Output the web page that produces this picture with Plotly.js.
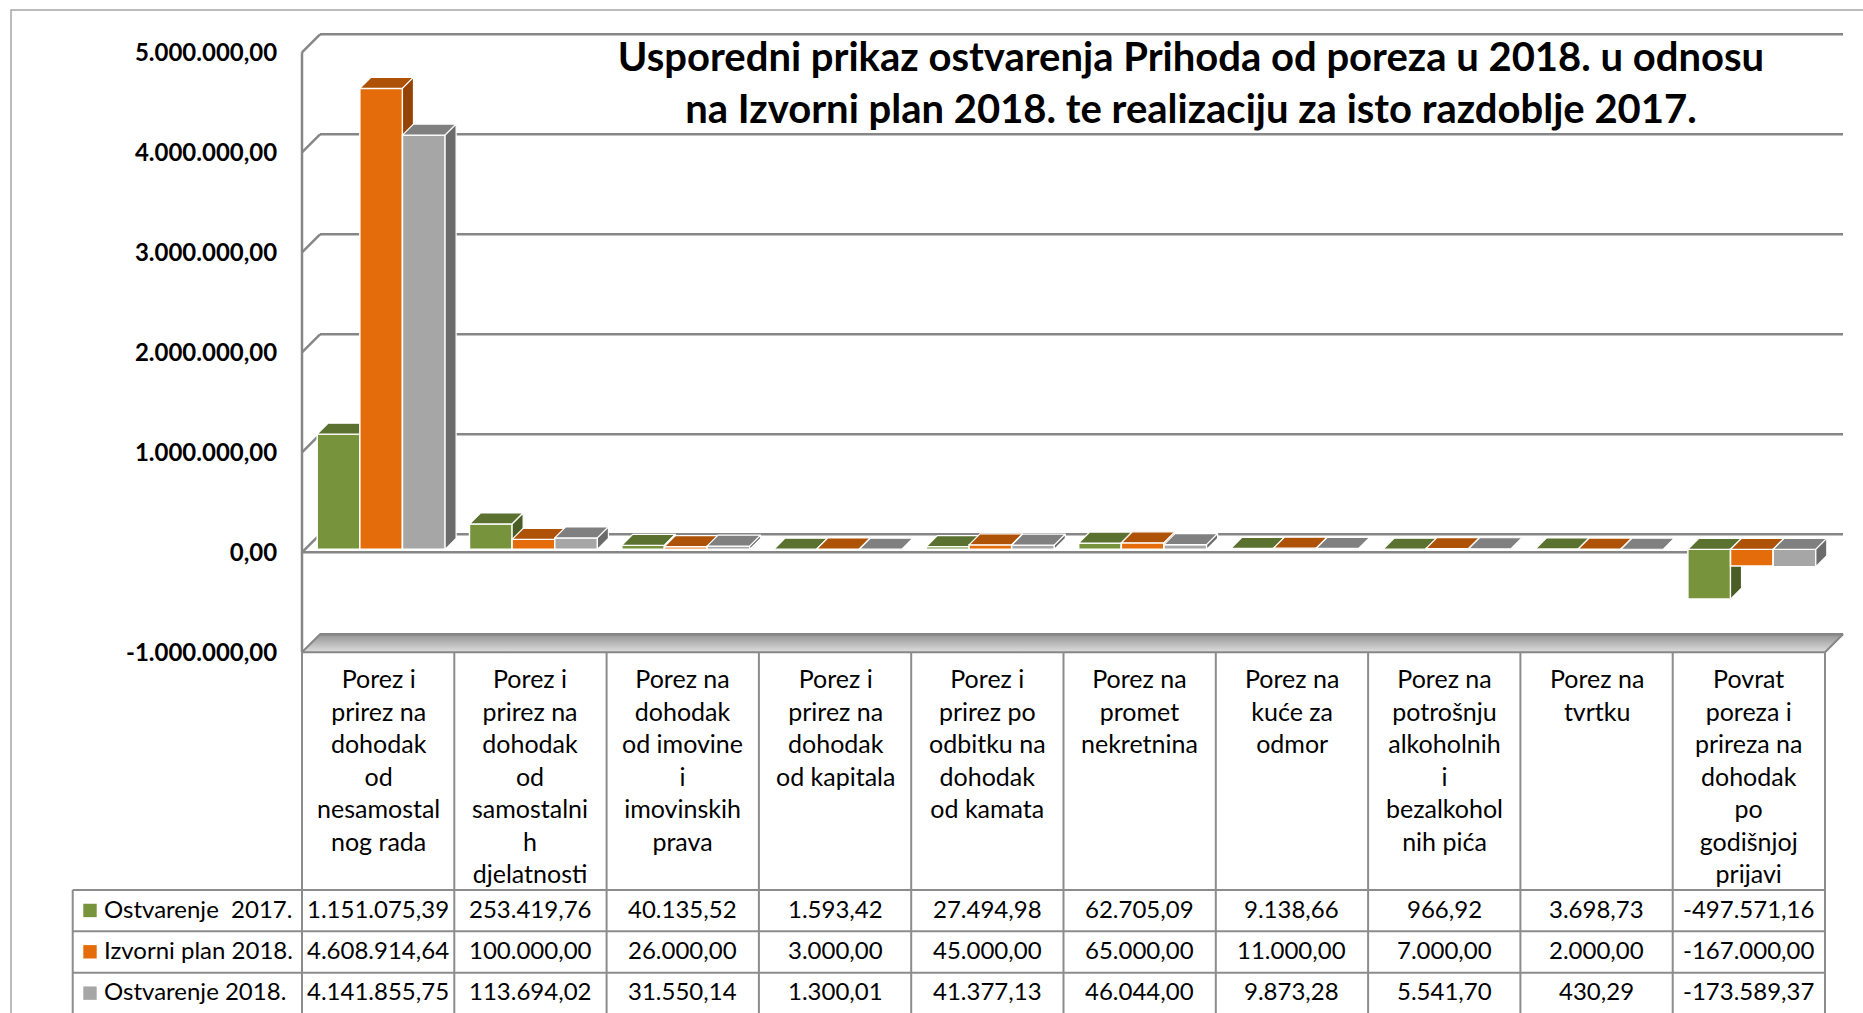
<!DOCTYPE html>
<html><head><meta charset="utf-8">
<script src="https://cdn.plot.ly/plotly-3.0.1.min.js"></script>
<style>html,body{margin:0;padding:0;background:#fff;}#chart{width:1863px;height:1013px;}</style>
</head><body><div id="chart"></div>
<script>
// ---------------- DATA ----------------
const categories = [
  "Porez i<br>prirez na<br>dohodak<br>od<br>nesamostal<br>nog rada",
  "Porez i<br>prirez na<br>dohodak<br>od<br>samostalni<br>h<br>djelatnosti",
  "Porez na<br>dohodak<br>od imovine<br>i<br>imovinskih<br>prava",
  "Porez i<br>prirez na<br>dohodak<br>od kapitala",
  "Porez i<br>prirez po<br>odbitku na<br>dohodak<br>od kamata",
  "Porez na<br>promet<br>nekretnina",
  "Porez na<br>kuće za<br>odmor",
  "Porez na<br>potrošnju<br>alkoholnih<br>i<br>bezalkohol<br>nih pića",
  "Porez na<br>tvrtku",
  "Povrat<br>poreza i<br>prireza na<br>dohodak<br>po<br>godišnjoj<br>prijavi"
];
const seriesNames = ["Ostvarenje\u00a0\u00a02017.", "Izvorni plan 2018.", "Ostvarenje 2018."];
const ostvarenje2017 = [1151075.39, 253419.76, 40135.52, 1593.42, 27494.98, 62705.09, 9138.66, 966.92, 3698.73, -497571.16];
const izvorniPlan2018 = [4608914.64, 100000.00, 26000.00, 3000.00, 45000.00, 65000.00, 11000.00, 7000.00, 2000.00, -167000.00];
const ostvarenje2018 = [4141855.75, 113694.02, 31550.14, 1300.01, 41377.13, 46044.00, 9873.28, 5541.70, 430.29, -173589.37];
const yTickValues = [-1000000, 0, 1000000, 2000000, 3000000, 4000000, 5000000];
const titleText = "Usporedni prikaz ostvarenja Prihoda od poreza u 2018. u odnosu<br>na Izvorni plan 2018. te realizaciju za isto razdoblje 2017.";

// ---------------- STYLE / GEOMETRY ----------------
const seriesValues = [ostvarenje2017, izvorniPlan2018, ostvarenje2018];
const frontColors = ['#77933C', '#E46C0A', '#A6A6A6'];
const topColors   = ['#5B7130', '#AE5208', '#808080'];
const sideColors  = ['#4A5D27', '#944306', '#6B6B6B'];
const FONT = 'Lato, "Open Sans", sans-serif';
const FIG_W = 1863, FIG_H = 1013;
const M = {l: 292, r: 15, t: 30, b: 357};
const PW = FIG_W - M.l - M.r, PH = FIG_H - M.t - M.b;
const PX_PER_CAT = 152.3;        // pixels per category
const UNITS_PER_PX = 10000;      // value units per pixel
const nCat = categories.length;
const XR = [-0.5 - 10 / PX_PER_CAT, -0.5 - 10 / PX_PER_CAT + PW / PX_PER_CAT];
const Y_BOTTOM = yTickValues[0] - 3.7 * UNITS_PER_PX;
const YR = [Y_BOTTOM, Y_BOTTOM + PH * UNITS_PER_PX];
const dX = px => px / PX_PER_CAT;
const dY = px => px * UNITS_PER_PX;
const WALL = 18, BAR_PLANE = 3, BAR_DEPTH = 11;
const SLOT = 0.28;
const xp = px => (px - M.l) / PW;               // pixel -> paper
const yp = py => (M.t + PH - py) / PH;
const GRID = '#868686';

function fmt(v) {
  const s = Math.abs(v).toFixed(2).split('.');
  return (v < 0 ? '-' : '') + s[0].replace(/\B(?=(\d{3})+(?!\d))/g, '.') + ',' + s[1];
}

const idx = categories.map((_, i) => i);
const xL = -0.5, xRt = nCat - 0.5;
const yMin = yTickValues[0], yMax = yTickValues[yTickValues.length - 1];

const traces = [];
// floor
traces.push({
  type: 'scatter', mode: 'lines', xaxis: 'x', yaxis: 'y', hoverinfo: 'skip', showlegend: false,
  x: [xL, xRt, xRt + dX(WALL), xL + dX(WALL), xL],
  y: [yMin, yMin, yMin + dY(WALL), yMin + dY(WALL), yMin],
  fill: 'toself',
  fillgradient: {type: 'vertical', colorscale: [[0, '#dedede'], [1, '#939393']]},
  line: {color: GRID, width: 2}
});
// back gridlines, side-wall diagonals, front axis, front zero line
const gx = [], gy = [];
yTickValues.forEach(v => {
  gx.push(xL + dX(WALL), xRt + dX(WALL), null); gy.push(v + dY(WALL), v + dY(WALL), null);
  if (v > yMin) { gx.push(xL, xL + dX(WALL), null); gy.push(v, v + dY(WALL), null); }
});
gx.push(xL, xL, null); gy.push(yMin, yMax, null);
gx.push(xL, xRt, null); gy.push(0, 0, null);
traces.push({type: 'scatter', mode: 'lines', x: gx, y: gy, xaxis: 'x', yaxis: 'y',
  hoverinfo: 'skip', showlegend: false, line: {color: GRID, width: 2.5}});

// bars (each series in its own overlaid subplot for correct 3D occlusion)
seriesValues.forEach((vals, k) => {
  const ax = k + 2;
  const off = -1.5 * SLOT + k * SLOT + dX(BAR_PLANE);
  const base = dY(BAR_PLANE);
  traces.push({
    type: 'bar', name: seriesNames[k], x: idx, y: vals, base: base, width: SLOT, offset: off,
    xaxis: 'x' + ax, yaxis: 'y' + ax, showlegend: false,
    marker: {color: frontColors[k], line: {color: '#ffffff', width: 1.5}}
  });
  const tx = [], ty = [], sx = [], sy = [];
  vals.forEach((v, i) => {
    const x0 = i + off, x1 = x0 + SLOT;
    const yb = base + Math.min(v, 0), yt = base + Math.max(v, 0);
    tx.push(x0, x1, x1 + dX(BAR_DEPTH), x0 + dX(BAR_DEPTH), x0, null);
    ty.push(yt, yt, yt + dY(BAR_DEPTH), yt + dY(BAR_DEPTH), yt, null);
    sx.push(x1, x1, x1 + dX(BAR_DEPTH), x1 + dX(BAR_DEPTH), x1, null);
    sy.push(yb, yt, yt + dY(BAR_DEPTH), yb + dY(BAR_DEPTH), yb, null);
  });
  traces.push({type: 'scatter', mode: 'lines', x: tx, y: ty, fill: 'toself', fillcolor: topColors[k],
    line: {color: '#ffffff', width: 1.2}, xaxis: 'x' + ax, yaxis: 'y' + ax, hoverinfo: 'skip', showlegend: false});
  traces.push({type: 'scatter', mode: 'lines', x: sx, y: sy, fill: 'toself', fillcolor: sideColors[k],
    line: {color: '#ffffff', width: 1.2}, xaxis: 'x' + ax, yaxis: 'y' + ax, hoverinfo: 'skip', showlegend: false});
});

// ---------------- TABLE ----------------
const HEAD_TOP = 652.3;
const ROW_LINES = [890, 931.3, 972.7, 1014];
const TEXT_RAISE = 2.4;
const LEG_LEFT = 72.7, FRONT_RIGHT = 1825;
const TABLE_LINE = {color: '#8c8c8c', width: 2};
const shapes = [];
shapes.push({type: 'rect', xref: 'paper', yref: 'paper', x0: xp(11), x1: xp(1900), y0: yp(10), y1: yp(1060),
  line: {color: '#a6a6a6', width: 1.5}, layer: 'below'});
for (let i = 0; i <= nCat; i++) {
  shapes.push({type: 'line', xref: 'x', yref: 'paper', x0: i - 0.5, x1: i - 0.5, y0: yp(HEAD_TOP), y1: yp(1020), line: TABLE_LINE});
}
shapes.push({type: 'line', xref: 'paper', yref: 'paper', x0: xp(LEG_LEFT), x1: xp(LEG_LEFT), y0: yp(ROW_LINES[0]), y1: yp(1020), line: TABLE_LINE});
ROW_LINES.slice(0, 3).forEach(r => {
  shapes.push({type: 'line', xref: 'paper', yref: 'paper', x0: xp(LEG_LEFT), x1: xp(FRONT_RIGHT), y0: yp(r), y1: yp(r), line: TABLE_LINE});
});

const annotations = [];
categories.forEach((c, i) => {
  annotations.push({x: i, xref: 'x', y: yp(660.6), yref: 'paper', yanchor: 'top', xanchor: 'center',
    text: c, showarrow: false, align: 'center', font: {family: FONT, size: 25, color: '#000'}});
});
seriesValues.forEach((vals, k) => {
  const yc = (ROW_LINES[k] + ROW_LINES[k + 1]) / 2;
  vals.forEach((v, i) => {
    annotations.push({x: i, xref: 'x', y: yp(yc - TEXT_RAISE), yref: 'paper', yanchor: 'middle', xanchor: 'center',
      text: fmt(v), showarrow: false, font: {family: FONT, size: 24, color: '#000'}});
  });
  annotations.push({x: xp(102), xref: 'paper', y: yp(yc - TEXT_RAISE), yref: 'paper', yanchor: 'middle', xanchor: 'left',
    text: seriesNames[k], showarrow: false, font: {family: FONT, size: 24, color: '#000'}});
  shapes.push({type: 'rect', xref: 'paper', yref: 'paper', x0: xp(83.3), x1: xp(96.7), y0: yp(yc + 6.5), y1: yp(yc - 6.9),
    fillcolor: frontColors[k], line: {width: 0}});
});

// ---------------- LAYOUT ----------------
const hiddenX = {range: XR, visible: false, overlaying: 'x', fixedrange: true};
const hiddenY = {range: YR, visible: false, overlaying: 'y', fixedrange: true};
const layout = {
  width: FIG_W, height: FIG_H, margin: M,
  paper_bgcolor: '#ffffff', plot_bgcolor: '#ffffff', showlegend: false,
  title: {text: titleText, font: {family: FONT, size: 40, color: '#000', weight: 700},
    xref: 'paper', x: xp(1191), xanchor: 'center', yref: 'container', y: 1 - 71 / FIG_H, yanchor: 'middle'},
  xaxis: {range: XR, visible: false, fixedrange: true},
  yaxis: {range: YR, tickvals: yTickValues, ticktext: yTickValues.map(fmt),
    showgrid: false, zeroline: false, showline: false,
    ticks: 'outside', ticklen: 9, tickcolor: 'rgba(0,0,0,0)',
    tickfont: {family: FONT, size: 24, color: '#000', weight: 700}, fixedrange: true},
  xaxis2: Object.assign({anchor: 'y2'}, hiddenX), yaxis2: Object.assign({anchor: 'x2'}, hiddenY),
  xaxis3: Object.assign({anchor: 'y3'}, hiddenX), yaxis3: Object.assign({anchor: 'x3'}, hiddenY),
  xaxis4: Object.assign({anchor: 'y4'}, hiddenX), yaxis4: Object.assign({anchor: 'x4'}, hiddenY),
  shapes: shapes, annotations: annotations
};
Plotly.newPlot('chart', traces, layout, {displayModeBar: false, staticPlot: true});
</script>
</body></html>
